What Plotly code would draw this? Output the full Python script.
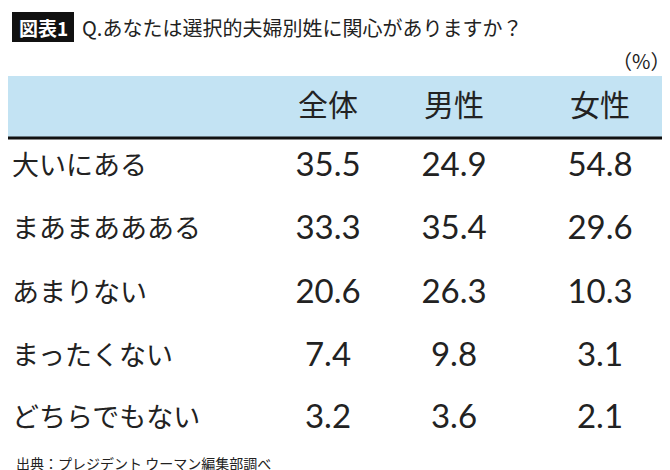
import plotly.graph_objects as go

columns = ["全体", "男性", "女性"]
answers = ["大いにある", "まあまああある", "あまりない", "まったくない", "どちらでもない"]
total = [35.5, 33.3, 20.6, 7.4, 3.2]
male = [24.9, 35.4, 26.3, 9.8, 3.6]
female = [54.8, 29.6, 10.3, 3.1, 2.1]

# layout (pixel-ish coordinates on hidden axes)
col_x = [320, 446, 592]
row_y = [160, 223, 287, 350, 412]
font = "Noto Sans CJK JP"

fig = go.Figure()
fig.add_shape(type="rect", x0=0, x1=670, y0=68, y1=129, fillcolor="#c3e3f3", line_width=0, layer="below")
fig.add_shape(type="line", x0=0, x1=670, y0=130, y1=130, line=dict(color="#111", width=3))
fig.add_shape(type="rect", x0=4, x1=66, y0=4, y1=34, fillcolor="#111", line_width=0)

fig.add_trace(go.Scatter(x=col_x, y=[100] * 3, text=columns, mode="text",
                         textfont=dict(size=30, color="#222", family=font)))
fig.add_trace(go.Scatter(x=[4] * len(answers), y=row_y, text=answers, mode="text",
                         textposition="middle right",
                         textfont=dict(size=27, color="#222", family=font)))
for cx, vals in zip(col_x, [total, male, female]):
    fig.add_trace(go.Scatter(x=[cx] * len(vals), y=row_y, text=[f"{v:.1f}" for v in vals],
                             mode="text", textfont=dict(size=33, color="#222", family="Lato")))

fig.add_annotation(x=35, y=19, text="<b>図表1</b>", showarrow=False,
                   font=dict(size=19, color="white", family=font))
fig.add_annotation(x=72, y=19, text="Q.あなたは選択的夫婦別姓に関心がありますか？", xanchor="left",
                   showarrow=False, font=dict(size=20, color="#222", family=font))
fig.add_annotation(x=664, y=52, text="（%）", xanchor="right", showarrow=False,
                   font=dict(size=20, color="#222", family=font))
fig.add_annotation(x=6, y=455, text="出典：プレジデント ウーマン編集部調べ", xanchor="left",
                   showarrow=False, font=dict(size=14, color="#222", family=font))

fig.update_xaxes(range=[0, 670], visible=False, fixedrange=True)
fig.update_yaxes(range=[470, 0], visible=False, fixedrange=True)
fig.update_layout(width=670, height=470, margin=dict(l=0, r=0, t=0, b=0),
                  showlegend=False, plot_bgcolor="white", paper_bgcolor="white")
fig.write_html("out.html")
